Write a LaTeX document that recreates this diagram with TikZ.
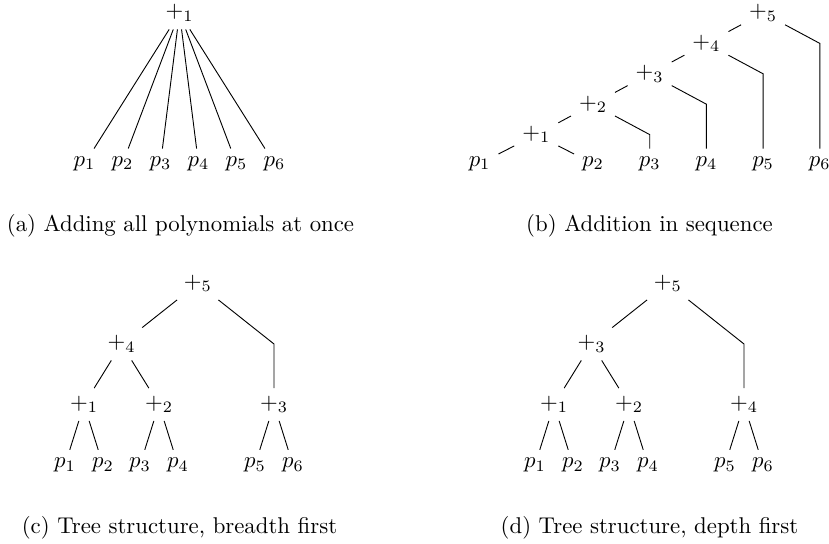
\documentclass[tikz,border=0pt]{standalone}
\usetikzlibrary{positioning}

\begin{document}
\begin{tikzpicture}[x=0.4386pt, y=-0.4386pt,
  subcap/.style={anchor=base}]
\useasboundingbox (0,0) rectangle (829,543);

% (a) one addition
\node (aplus) at (179.5,13) {$+_1$};
\foreach \i in {1,...,6} {
  \node (ap\i) at ({179.5+38*(\i-3.5)},163.7) {$p_{\i}$};
  \draw (aplus) -- (ap\i);
}
\node[subcap] (capa) at (180.5,231) {(a) Adding all polynomials at once};

% (b) chain
\node (bp1) at (479.6,163.7) {$p_1$};
\foreach \i in {2,...,6}
  \node (bp\i) at ({593+56.7*(\i-2)},163.7) {$p_{\i}$};
\foreach \k in {1,...,5}
  \node (bplus\k) at ({536.3+56.7*(\k-1)},{134.6-30.4*(\k-1)}) {$+_{\k}$};
\draw (bplus1) -- (bp1);
\draw (bplus1) -- (bp2);
\foreach \k in {2,...,5} {
  \pgfmathtruncatemacro{\j}{\k-1}
  \pgfmathtruncatemacro{\n}{\k+1}
  \draw (bplus\k) -- (bplus\j);
  \draw (bplus\k) -- (bp\n |- bplus\j) -- (bp\n);
}
\node[subcap] (capb) at (649.5,231) {(b) Addition in sequence};

% (c) and (d) balanced trees
\foreach \pre/\off/\inner/\outer in {c/0/4/3, d/470/3/4} {
  \begin{scope}[shift={(\off,0)}]
    \node (\pre p1) at (65,465) {$p_1$};
    \node (\pre p2) at (103,465) {$p_2$};
    \node (\pre p3) at (140,465) {$p_3$};
    \node (\pre p4) at (178,465) {$p_4$};
    \node (\pre p5) at (255,465) {$p_5$};
    \node (\pre p6) at (293,465) {$p_6$};
    \node (\pre a) at (84,404.5) {$+_1$};
    \node (\pre b) at (159,404.5) {$+_2$};
    \node (\pre r) at (274,404.5) {$+_{\outer}$};
    \node (\pre m) at (121.5,344) {$+_{\inner}$};
    \node (\pre top) at (197.75,283.5) {$+_5$};
    \draw (\pre top) -- (\pre m);
    \draw (\pre top) -- (\pre r |- \pre m) -- (\pre r);
    \draw (\pre m) -- (\pre a);
    \draw (\pre m) -- (\pre b);
    \draw (\pre a) -- (\pre p1);
    \draw (\pre a) -- (\pre p2);
    \draw (\pre b) -- (\pre p3);
    \draw (\pre b) -- (\pre p4);
    \draw (\pre r) -- (\pre p5);
    \draw (\pre r) -- (\pre p6);
  \end{scope}
}
\node[subcap] (capc) at (179.5,533) {(c) Tree structure, breadth first};
\node[subcap] (capd) at (649.5,533) {(d) Tree structure, depth first};
\end{tikzpicture}
\end{document}
